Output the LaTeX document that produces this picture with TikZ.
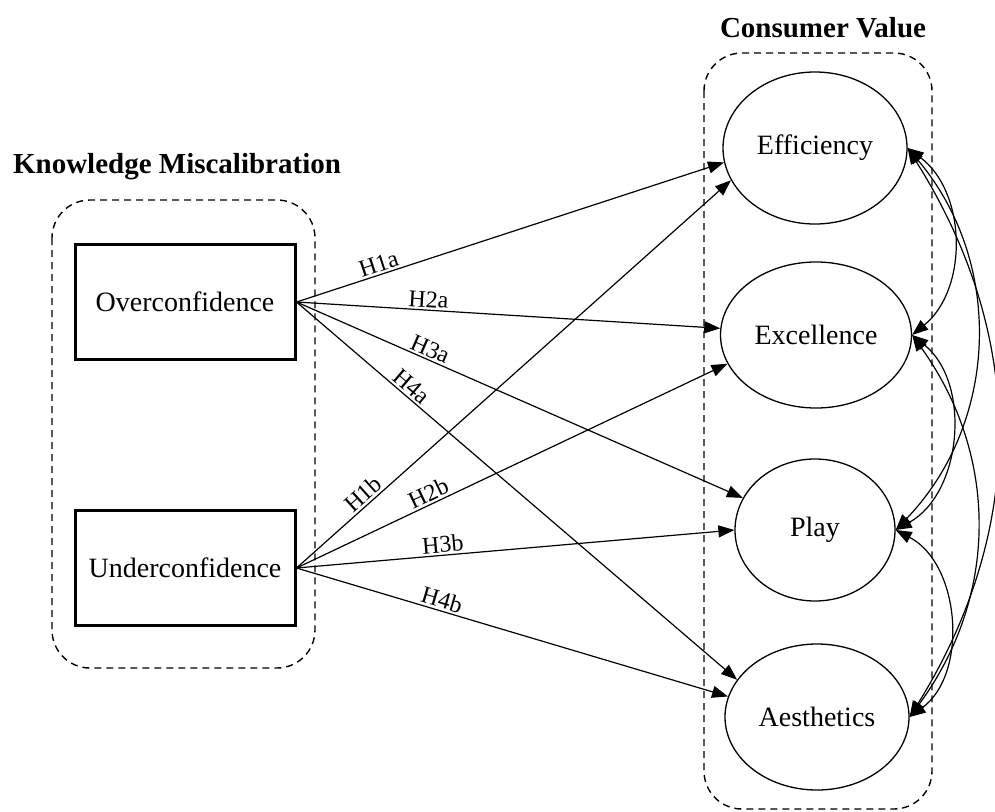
\documentclass[tikz,border=0pt]{standalone}
\usepackage{fontspec}
\setmainfont{Liberation Serif}
\usetikzlibrary{arrows.meta,shapes.geometric}
\begin{document}
\begin{tikzpicture}[x=1pt,y=-1pt,
  every node/.style={font=\fontsize{28}{32}\selectfont},
  construct/.style={draw, line width=3pt, minimum width=220pt, minimum height=115pt, inner sep=0pt},
  valuenode/.style={draw, ellipse, line width=1.3pt, inner sep=0pt},
  group/.style={draw, dash pattern=on 7pt off 5pt, line width=1.4pt, rounded corners=38pt},
  arr/.style={-{Triangle[length=16pt,width=12pt]}, line width=1.2pt},
  cov/.style={{Triangle[length=16pt,width=12pt]}-{Triangle[length=16pt,width=12pt]}, line width=1.2pt},
  lbl/.style={font=\fontsize{24}{28}\selectfont, sloped, above, inner sep=2pt},
  heading/.style={font=\bfseries\fontsize{29}{34}\selectfont}]

\useasboundingbox (0,0) rectangle (995,811);

% group frames
\draw[group] (52,200) rectangle (315,668);
\draw[group] (704,53) rectangle (932,809);

% headings
\node[heading] (kmtitle) at (177,167) {Knowledge Miscalibration};
\node[heading] (cvtitle) at (823,28) {Consumer Value};

% knowledge miscalibration constructs
\node[construct] (over) at (185,302) {Overconfidence};
\node[construct] (under) at (185,568) {Underconfidence};

% consumer value dimensions
\node[valuenode, minimum width=184pt, minimum height=152pt] (eff) at (815,148) {Efficiency};
\node[valuenode, minimum width=191pt, minimum height=146pt] (exc) at (816,335) {Excellence};
\node[valuenode, minimum width=160pt, minimum height=142pt] (play) at (815,530) {Play};
\node[valuenode, minimum width=184pt, minimum height=146pt] (aes) at (817,717) {Aesthetics};

% hypothesised paths
\draw[arr] (over.east) -- node[lbl, pos=0.2] {H1a} (eff.189);
\draw[arr] (over.east) -- node[lbl, pos=0.31] {H2a} (exc.176);
\draw[arr] (over.east) -- node[lbl, pos=0.29] {H3a} (play.156);
\draw[arr] (over.east) -- node[lbl, pos=0.245] {H4a} (aes.155);

\draw[arr] (under.east) -- node[lbl, pos=0.17] {H1b} (eff.201);
\draw[arr] (under.east) -- node[lbl, pos=0.317] {H2b} (exc.198);
\draw[arr] (under.east) -- node[lbl, pos=0.336] {H3b} (play.180);
\draw[arr] (under.east) -- node[lbl, pos=0.33] {H4b} (aes.167);

% correlations among the value dimensions
\draw[cov] (eff.east) to[bend left=52] (exc.east);
\draw[cov] (eff.east) to[bend left=42] (play.east);
\draw[cov] (eff.east) to[bend left=32] (aes.east);
\draw[cov] (exc.east) to[bend left=56] (play.east);
\draw[cov] (exc.east) to[bend left=36] (aes.east);
\draw[cov] (play.east) to[bend left=58] (aes.east);

\end{tikzpicture}
\end{document}
